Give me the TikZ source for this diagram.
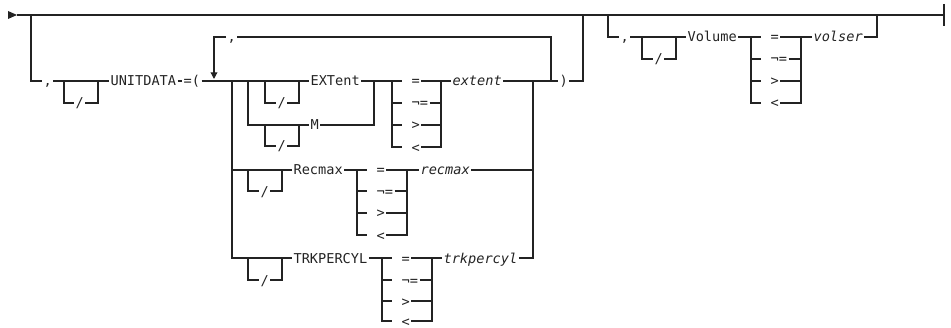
\documentclass[tikz,border=0pt]{standalone}
\usepackage{fontspec}
\setmonofont{DejaVu Sans Mono}
\usepackage{xcolor}
\usepackage{tikz}
\usetikzlibrary{arrows.meta}
\definecolor{figline}{RGB}{35,35,35}
\tikzset{
  sc/.style   ={draw=figline, line width=0.9pt, line cap=butt},
  scb/.style  ={draw=figline, line width=1.8pt},
  lab/.style  ={font=\ttfamily\fontsize{10.2}{12}\selectfont, text=figline, inner xsep=1pt, inner ysep=0pt, text height=8pt, text depth=0.5pt, anchor=west},
  labi/.style ={lab, font=\ttfamily\itshape\fontsize{10.2}{12}\selectfont},
  ptr/.style  ={draw=figline, line width=0.9pt, -{Triangle[length=5pt,width=5pt]}},
}
\begin{document}
\begin{tikzpicture}[x=0.75pt,y=-0.75pt]
  \useasboundingbox (0,0) rectangle (951,328);
  % main line
  \coordinate (st) at (17,15);
  \coordinate (en) at (944,15);
  \fill[figline] (8,11) -- (st) -- (8,19) -- cycle;
  \draw[sc] (st) -- (en);
  \draw[scb] (880,15) -- (897,15);
  \draw[sc] (944,4) -- (944,26);
  % UNITDATA branch
  \node[lab] (cma1) at (42,81) {,};
  \node[lab] (sl1) at (74,103) {/};
  \node[lab] (unit) at (109,81) {UNITDATA};
  \node[lab] (eqp) at (182,81) {=(};
  \draw[sc] (31,15) |- (cma1.west);
  \draw[sc] (cma1.east) -- (unit.west);
  \draw[sc] (64,81) |- (sl1.west);
  \draw[sc] (sl1.east) -| (98,81);
  \draw[sc] (unit.east) -- (eqp.west);
  % repeat loop
  \node[lab] (cma2) at (226,37) {,};
  \draw[ptr] (cma2.west) -| (214,79);
  \draw[sc] (551,81) |- (cma2.east);
  % EXTent / M
  \node[lab] (sl2) at (276,103) {/};
  \node[lab] (ext) at (309,81) {EXTent};
  \node[lab] (sl3) at (276,146) {/};
  \node[lab] (mm) at (309,125) {M};
  \draw[sc] (eqp.east) -- (ext.west);
  \draw[sc] (265,81) |- (sl2.west);
  \draw[sc] (sl2.east) -| (299,81);
  \draw[sc] (248,81) |- (mm.west);
  \draw[sc] (265,125) |- (sl3.west);
  \draw[sc] (sl3.east) -| (299,125);
  \draw[sc] (mm.east) -| (374,81);
  \node[lab] (oa1) at (410,81) {=};
  \node[lab] (oa2) at (410,103) {¬=};
  \node[lab] (oa3) at (410,125) {>};
  \node[lab] (oa4) at (410,147) {<};
  \node[labi] (extv) at (451,81) {extent};
  \draw[sc] (ext.east) -- ([xshift=-6pt]oa1.west);
  \draw[sc] (392,81) |- ([xshift=-6pt]oa4.west);
  \draw[sc] (392,103) -- ([xshift=-6pt]oa2.west);
  \draw[sc] (392,125) -- ([xshift=-6pt]oa3.west);
  \draw[sc] (oa1.east) -- (extv.west);
  \draw[sc] (oa2.east) -- (441,103);
  \draw[sc] (oa3.east) -- (441,125);
  \draw[sc] (oa4.east) -| (441,81);
  \node[lab] (rpar) at (558,81) {)};
  \draw[sc] (extv.east) -- (rpar.west);
  \draw[sc] (rpar.east) -| (583,15);
  % Recmax
  \node[lab] (sl4) at (259,191) {/};
  \node[lab] (rec) at (292,170) {Recmax};
  \draw[sc] (232,170) -- (rec.west);
  \draw[sc] (248,170) |- (sl4.west);
  \draw[sc] (sl4.east) -| (282,170);
  \node[lab] (ob1) at (375,170) {=};
  \node[lab] (ob2) at (375,191) {¬=};
  \node[lab] (ob3) at (375,213) {>};
  \node[lab] (ob4) at (375,235) {<};
  \node[labi] (recv) at (419,170) {recmax};
  \draw[sc] (rec.east) -- ([xshift=-6pt]ob1.west);
  \draw[sc] (357,170) |- ([xshift=-6pt]ob4.west);
  \draw[sc] (357,191) -- ([xshift=-6pt]ob2.west);
  \draw[sc] (357,213) -- ([xshift=-6pt]ob3.west);
  \draw[sc] (ob1.east) -- (recv.west);
  \draw[sc] (ob2.east) -- (407,191);
  \draw[sc] (ob3.east) -- (407,213);
  \draw[sc] (ob4.east) -| (407,170);
  \draw[sc] (recv.east) -- (533,170);
  % TRKPERCYL
  \node[lab] (sl5) at (259,280) {/};
  \node[lab] (trk) at (292,258) {TRKPERCYL};
  \draw[sc] (232,81) |- (trk.west);
  \draw[sc] (248,258) |- (sl5.west);
  \draw[sc] (sl5.east) -| (282,258);
  \node[lab] (oc1) at (400,258) {=};
  \node[lab] (oc2) at (400,280) {¬=};
  \node[lab] (oc3) at (400,301) {>};
  \node[lab] (oc4) at (400,321) {<};
  \node[labi] (trkv) at (442,258) {trkpercyl};
  \draw[sc] (trk.east) -- ([xshift=-6pt]oc1.west);
  \draw[sc] (382,258) |- ([xshift=-6pt]oc4.west);
  \draw[sc] (382,280) -- ([xshift=-6pt]oc2.west);
  \draw[sc] (382,301) -- ([xshift=-6pt]oc3.west);
  \draw[sc] (oc1.east) -- (trkv.west);
  \draw[sc] (oc2.east) -- (432,280);
  \draw[sc] (oc3.east) -- (432,301);
  \draw[sc] (oc4.east) -| (432,258);
  \draw[sc] (trkv.east) -| (533,81);
  % Volume branch
  \node[lab] (cma3) at (619,37) {,};
  \node[lab] (sl6) at (653,59) {/};
  \node[lab] (vol) at (686,37) {Volume};
  \draw[sc] (608,15) |- (cma3.west);
  \draw[sc] (cma3.east) -- (vol.west);
  \draw[sc] (642,37) |- (sl6.west);
  \draw[sc] (sl6.east) -| (676,37);
  \node[lab] (od1) at (769,37) {=};
  \node[lab] (od2) at (769,59) {¬=};
  \node[lab] (od3) at (769,81) {>};
  \node[lab] (od4) at (769,103) {<};
  \node[labi] (volv) at (812,37) {volser};
  \draw[sc] (vol.east) -- ([xshift=-6pt]od1.west);
  \draw[sc] (751,37) |- ([xshift=-6pt]od4.west);
  \draw[sc] (751,59) -- ([xshift=-6pt]od2.west);
  \draw[sc] (751,81) -- ([xshift=-6pt]od3.west);
  \draw[sc] (od1.east) -- (volv.west);
  \draw[sc] (od2.east) -- (801,59);
  \draw[sc] (od3.east) -- (801,81);
  \draw[sc] (od4.east) -| (801,37);
  \draw[sc] (volv.east) -| (877,15);
\end{tikzpicture}
\end{document}
